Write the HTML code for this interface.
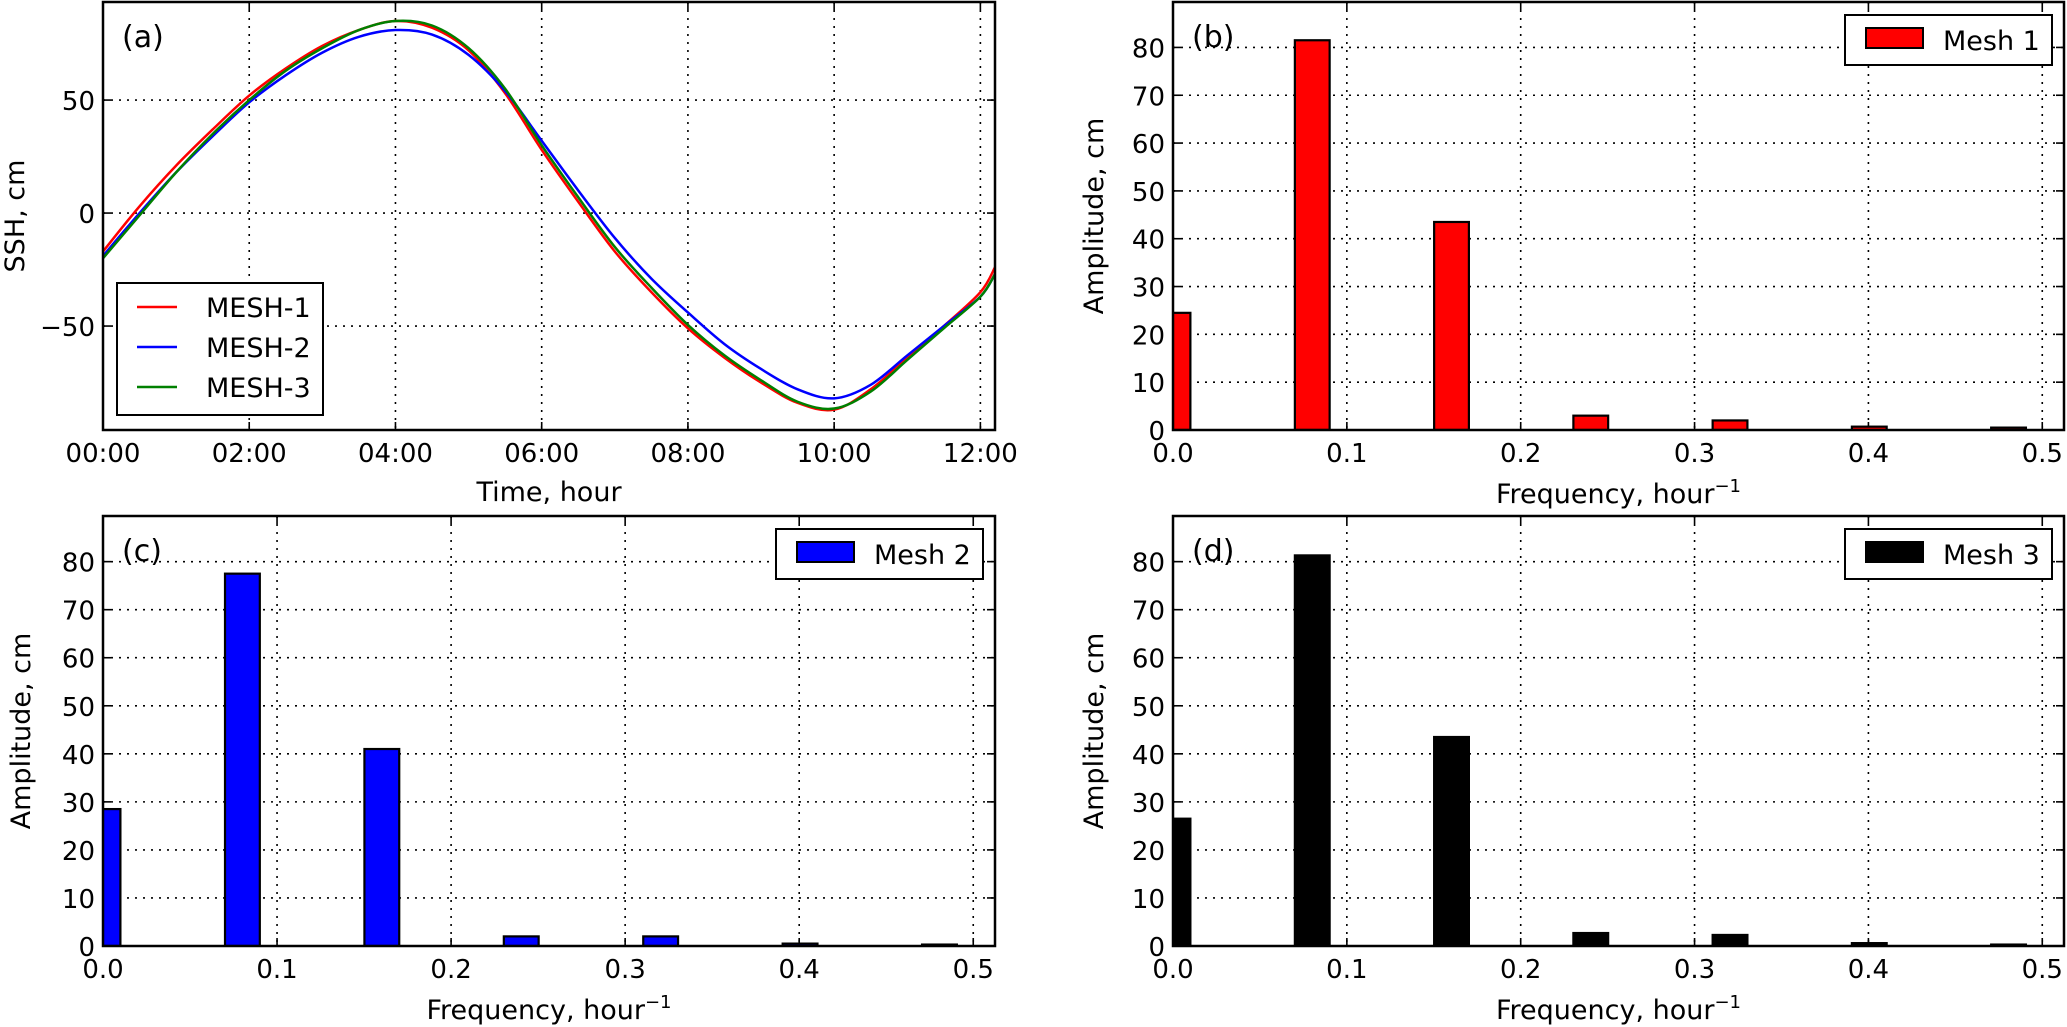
<!DOCTYPE html>
<html><head><meta charset="utf-8">
<style>
html,body{margin:0;padding:0;background:#fff;}
svg{display:block;font-family:"DejaVu Sans","Liberation Sans",sans-serif;}
</style></head>
<body>
<svg id="fig" width="2067" height="1027" viewBox="0 0 2067 1027" xmlns="http://www.w3.org/2000/svg"></svg>
<script>
// ---- Panel (a) data ----
const timeHours = [0,0.5,1,1.5,2,2.5,3,3.5,4,4.5,5,5.5,6,6.5,7,7.5,8,8.5,9,9.5,10,10.5,11,11.5,12,12.2];
const mesh1SSH = [-17,3,21,37,52,64,74,81,85,82,72,53,28,5,-17,-35,-51,-64,-75,-84,-87,-78,-64,-50,-35,-24];
const mesh2SSH = [-19,0,18,34,49,61,71,78,81,79,70,54,32,10,-11,-29,-44,-58,-69,-78,-82,-76,-63,-50,-37,-27];
const mesh3SSH = [-20,-1,18,35,50,63,73,81,85,83,73,55,30,7,-15,-33,-49.5,-63,-74,-83.5,-86.5,-79,-65,-51,-37,-27];
const timeTicks = [0,2,4,6,8,10,12];
const timeTickLabels = ["00:00","02:00","04:00","06:00","08:00","10:00","12:00"];
const sshTicks = [-50,0,50];
const sshTickLabels = ["\u221250","0","50"];
// ---- Spectra data ----
const freqs = [0,0.0801,0.1602,0.2403,0.3204,0.4005,0.4806];
const ampMesh1 = [24.5,81.5,43.5,3,2,0.7,0.5];
const ampMesh2 = [28.5,77.5,41,2,2,0.5,0.3];
const ampMesh3 = [26.5,81.3,43.5,2.7,2.3,0.6,0.3];
const freqTicks = [0,0.1,0.2,0.3,0.4,0.5];
const freqTickLabels = ["0.0","0.1","0.2","0.3","0.4","0.5"];
const ampTicks = [0,10,20,30,40,50,60,70,80];
const ampTickLabels = ["0","10","20","30","40","50","60","70","80"];

const NS="http://www.w3.org/2000/svg";
const svg=document.getElementById('fig');
function mk(tag,attrs,parent){const e=document.createElementNS(NS,tag);for(const k in attrs)e.setAttribute(k,attrs[k]);(parent||svg).appendChild(e);return e;}

function makeAxes(name,L,T,R,B,xmin,xmax,ymin,ymax,xt,xtl,yt,ytl,xlabel,ylabel,ylabX,xlabY,tag){
  const g=mk('g',{});
  
  
  const sx=v=>L+(v-xmin)/(xmax-xmin)*(R-L);
  const sy=v=>B-(v-ymin)/(ymax-ymin)*(B-T);
  const grid=mk('g',{},g);
  
  
  xt.forEach((v,i)=>{
    const x=sx(v);
    mk('line',{x1:x,x2:x,y1:T,y2:B,stroke:'#000','stroke-width':1.6,'stroke-dasharray':'2,6'},grid);
    mk('line',{x1:x,x2:x,y1:B,y2:B-8,stroke:'#000','stroke-width':1.6},grid);
    mk('line',{x1:x,x2:x,y1:T,y2:T+8,stroke:'#000','stroke-width':1.6},grid);
    const t=mk('text',{x:x,y:B+32,'text-anchor':'middle','font-size':26,fill:'#000'},g);
    t.textContent=xtl[i];
    
    
  });
  yt.forEach((v,i)=>{
    const y=sy(v);
    mk('line',{x1:L,x2:R,y1:y,y2:y,stroke:'#000','stroke-width':1.6,'stroke-dasharray':'2,6'},grid);
    mk('line',{x1:L,x2:L+8,y1:y,y2:y,stroke:'#000','stroke-width':1.6},grid);
    mk('line',{x1:R,x2:R-8,y1:y,y2:y,stroke:'#000','stroke-width':1.6},grid);
    const t=mk('text',{x:L-8,y:y+10,'text-anchor':'end','font-size':26,fill:'#000'},g);
    t.textContent=ytl[i];
    
    
  });
  const xl=mk('text',{x:(L+R)/2,y:xlabY,'text-anchor':'middle','font-size':27,fill:'#000'},g);
  xl.innerHTML=xlabel;
  
  
  const yl=mk('text',{x:ylabX,y:(T+B)/2,'text-anchor':'middle','font-size':27,fill:'#000',transform:`rotate(-90 ${ylabX} ${(T+B)/2})`},g);
  yl.textContent=ylabel;
  
  
  const marks=mk('g',{},g);
  
  
  const fr=mk('rect',{x:L,y:T,width:R-L,height:B-T,fill:'none',stroke:'#000','stroke-width':2.5});
  
  
  const lab=mk('text',{x:L+19,y:T+45,'font-size':30,fill:'#000'});
  lab.textContent=tag;
  
  
  return {sx,sy,marks,L,T,R,B};
}

function smoothPath(pts){
  let d=`M${pts[0][0]},${pts[0][1]}`;
  for(let i=0;i<pts.length-1;i++){
    const p0=pts[Math.max(0,i-1)],p1=pts[i],p2=pts[i+1],p3=pts[Math.min(pts.length-1,i+2)];
    const c1=[p1[0]+(p2[0]-p0[0])/6,p1[1]+(p2[1]-p0[1])/6];
    const c2=[p2[0]-(p3[0]-p1[0])/6,p2[1]-(p3[1]-p1[1])/6];
    d+=` C${c1[0]},${c1[1]} ${c2[0]},${c2[1]} ${p2[0]},${p2[1]}`;
  }
  return d;
}

// Panel (a)
const A=makeAxes('panel-a-ssh',103,2,995,430,0,12.2,-96,93.4,timeTicks,timeTickLabels,sshTicks,sshTickLabels,'Time, hour','SSH, cm',24,501,'(a)');
const series=[[mesh1SSH,'#ff0000','mesh-1-line'],[mesh2SSH,'#0000ff','mesh-2-line'],[mesh3SSH,'#008000','mesh-3-line']];
const clipA=mk('clipPath',{id:'clipA'});mk('rect',{x:103,y:2,width:892,height:428},clipA);
A.marks.setAttribute('clip-path','url(#clipA)');
series.forEach(s=>{
  const pts=timeHours.map((t,i)=>[A.sx(t),A.sy(s[0][i])]);
  const p=mk('path',{d:smoothPath(pts),fill:'none',stroke:s[1],'stroke-width':2.5},A.marks);
  
  
});
// legend (a)
const legA=mk('g',{});


mk('rect',{x:117,y:283,width:206,height:132,fill:'#fff',stroke:'#000','stroke-width':2},legA);
[['MESH-1','#ff0000'],['MESH-2','#0000ff'],['MESH-3','#008000']].forEach((e,i)=>{
  const y=307+i*40;
  const ent=mk('g',{},legA);
  
  
  mk('line',{x1:137,x2:177,y1:y,y2:y,stroke:e[1],'stroke-width':2.5},ent);
  const t=mk('text',{x:206,y:y+10,'font-size':27,fill:'#000'},ent);
  t.textContent=e[0];
});

function barPanel(name,L,T,R,B,amps,color,legText,ylabX,xlabY,tag){
  const P=makeAxes(name,L,T,R,B,0,0.5125,0,89.5,freqTicks,freqTickLabels,ampTicks,ampTickLabels,'Frequency, hour<tspan dy="-11" font-size="18">\u22121</tspan>','Amplitude, cm',ylabX,xlabY,tag);
  const clipId='clip-'+name;
  const c=mk('clipPath',{id:clipId});mk('rect',{x:L,y:T,width:R-L,height:B-T},c);
  P.marks.setAttribute('clip-path',`url(#${clipId})`);
  freqs.forEach((f,i)=>{
    const x0=P.sx(f-0.01),x1=P.sx(f+0.01),y=P.sy(amps[i]);
    const r=mk('rect',{x:x0,y:y,width:x1-x0,height:P.sy(0)-y,fill:color,stroke:'#000','stroke-width':2.2},P.marks);
    
    
  });
  const lg=mk('g',{});
  
  
  const lx=R-219,ly=T+13;
  mk('rect',{x:lx,y:ly,width:207,height:50,fill:'#fff',stroke:'#000','stroke-width':2},lg);
  mk('rect',{x:lx+21,y:ly+13,width:57,height:20,fill:color,stroke:'#000','stroke-width':2},lg);
  const t=mk('text',{x:lx+98,y:ly+35,'font-size':27,fill:'#000'},lg);
  t.textContent=legText;
  return P;
}
barPanel('panel-b-spectrum',1173,2,2064,430,ampMesh1,'#ff0000','Mesh 1',1103,503,'(b)');
barPanel('panel-c-spectrum',103,516,995,946,ampMesh2,'#0000ff','Mesh 2',30,1019,'(c)');
barPanel('panel-d-spectrum',1173,516,2064,946,ampMesh3,'#000000','Mesh 3',1103,1019,'(d)');
</script>
</body></html>
